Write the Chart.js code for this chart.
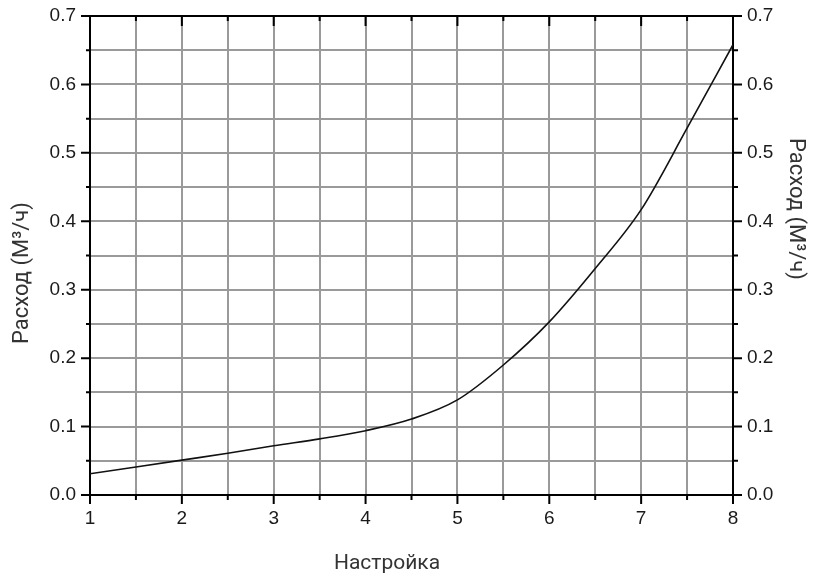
<!DOCTYPE html>
<html>
<head>
<meta charset="utf-8">
<script src="https://cdn.jsdelivr.net/npm/chart.js@4/dist/chart.umd.min.js"></script>
<style>
  html, body { margin: 0; padding: 0; background: #fff; }
  #wrap { width: 813px; height: 584px; }
</style>
</head>
<body>
<div id="wrap"><canvas id="chart" width="813" height="584"></canvas></div>
<script>
// настройка клапана и расход
const settings = [1, 1.5, 2, 2.5, 3, 3.5, 4, 4.5, 5, 5.5, 6, 6.5, 7, 7.5, 8];
const flow = [0.031, 0.041, 0.051, 0.061, 0.072, 0.082, 0.094, 0.111, 0.139, 0.190, 0.253, 0.331, 0.417, 0.536, 0.658];

const xTitle = "Настройка";
const yTitle = "Расход (М³/ч)";

const tickFont = { family: "'Liberation Sans', Arial, sans-serif", size: 19 };
const xTitleFont = "400 21px Roboto, 'Noto Sans', sans-serif";
const yTitleFont = "400 22px Roboto, 'Noto Sans', sans-serif";
const gridColor = "#9a9a9a";

const isMajor = (v, step) => Math.abs(v / step - Math.round(v / step)) < 1e-6;

// засечки (большие и малые), верхняя рамка и подписи осей
const ticksPlugin = {
    id: "ticksPlugin",
    afterDraw(chart) {
        const { ctx, chartArea: a, scales } = chart;
        ctx.save();
        ctx.strokeStyle = "#000";
        ctx.lineWidth = 2;

        ctx.beginPath();
        ctx.moveTo(a.left - 1, a.top);
        ctx.lineTo(a.right + 1, a.top);
        ctx.stroke();

        ctx.beginPath();
        scales.x.ticks.forEach(t => {
            const px = scales.x.getPixelForValue(t.value);
            const major = isMajor(t.value, 1);
            ctx.moveTo(px, a.bottom);
            ctx.lineTo(px, a.bottom + (major ? 9 : 5));
            ctx.moveTo(px, a.top);
            ctx.lineTo(px, a.top + (major ? 10 : 5));
        });
        scales.y.ticks.forEach(t => {
            const py = scales.y.getPixelForValue(t.value);
            ctx.moveTo(a.left, py);
            ctx.lineTo(a.left - (isMajor(t.value, 0.1) ? 9 : 4), py);
        });
        scales.y2.ticks.forEach(t => {
            const py = scales.y2.getPixelForValue(t.value);
            ctx.moveTo(a.right, py);
            ctx.lineTo(a.right + (isMajor(t.value, 0.1) ? 9 : 5), py);
        });
        ctx.stroke();

        ctx.fillStyle = "#333";
        ctx.textAlign = "center";
        ctx.textBaseline = "middle";
        ctx.font = xTitleFont;
        ctx.fillText(xTitle, 387, 564);

        ctx.font = yTitleFont;
        ctx.save();
        ctx.translate(22, 273);
        ctx.rotate(-Math.PI / 2);
        ctx.fillText(yTitle, 0, 0);
        ctx.restore();

        ctx.save();
        ctx.translate(795, 209);
        ctx.rotate(Math.PI / 2);
        ctx.fillText(yTitle, 0, 0);
        ctx.restore();

        ctx.restore();
    }
};

const yScale = (position, width) => ({
    type: "linear",
    position,
    min: 0,
    max: 0.7,
    afterFit: s => {
        s.width = width;
        s.paddingTop = 0;
        s.paddingBottom = 0;
    },
    border: { display: true, color: "#000", width: 2 },
    grid: {
        display: position === "left",
        color: gridColor,
        lineWidth: 2,
        drawTicks: false
    },
    ticks: {
        stepSize: 0.05,
        padding: 14,
        color: "#1a1a1a",
        font: tickFont,
        autoSkip: false,
        callback: v => isMajor(v, 0.1) ? v.toFixed(1) : ""
    }
});

new Chart(document.getElementById("chart"), {
    type: "line",
    data: {
        datasets: [{
            data: settings.map((s, i) => ({ x: s, y: flow[i] })),
            borderColor: "#111",
            borderWidth: 1.6,
            pointRadius: 0,
            cubicInterpolationMode: "monotone",
            fill: false
        }]
    },
    options: {
        responsive: false,
        animation: false,
        layout: { padding: { top: 16, left: 0, right: 0, bottom: 0 } },
        plugins: { legend: { display: false }, tooltip: { enabled: false } },
        scales: {
            x: {
                type: "linear",
                min: 1,
                max: 8,
                afterFit: s => {
                    s.height = 89;
                    s.paddingLeft = 0;
                    s.paddingRight = 0;
                },
                border: { display: true, color: "#000", width: 2 },
                grid: { color: gridColor, lineWidth: 2, drawTicks: false },
                ticks: {
                    stepSize: 0.5,
                    padding: 12,
                    color: "#1a1a1a",
                    font: tickFont,
                    autoSkip: false,
                    maxRotation: 0,
                    callback: v => isMajor(v, 1) ? String(v) : ""
                }
            },
            y: yScale("left", 90),
            y2: yScale("right", 80)
        }
    },
    plugins: [ticksPlugin]
});
</script>
</body>
</html>
